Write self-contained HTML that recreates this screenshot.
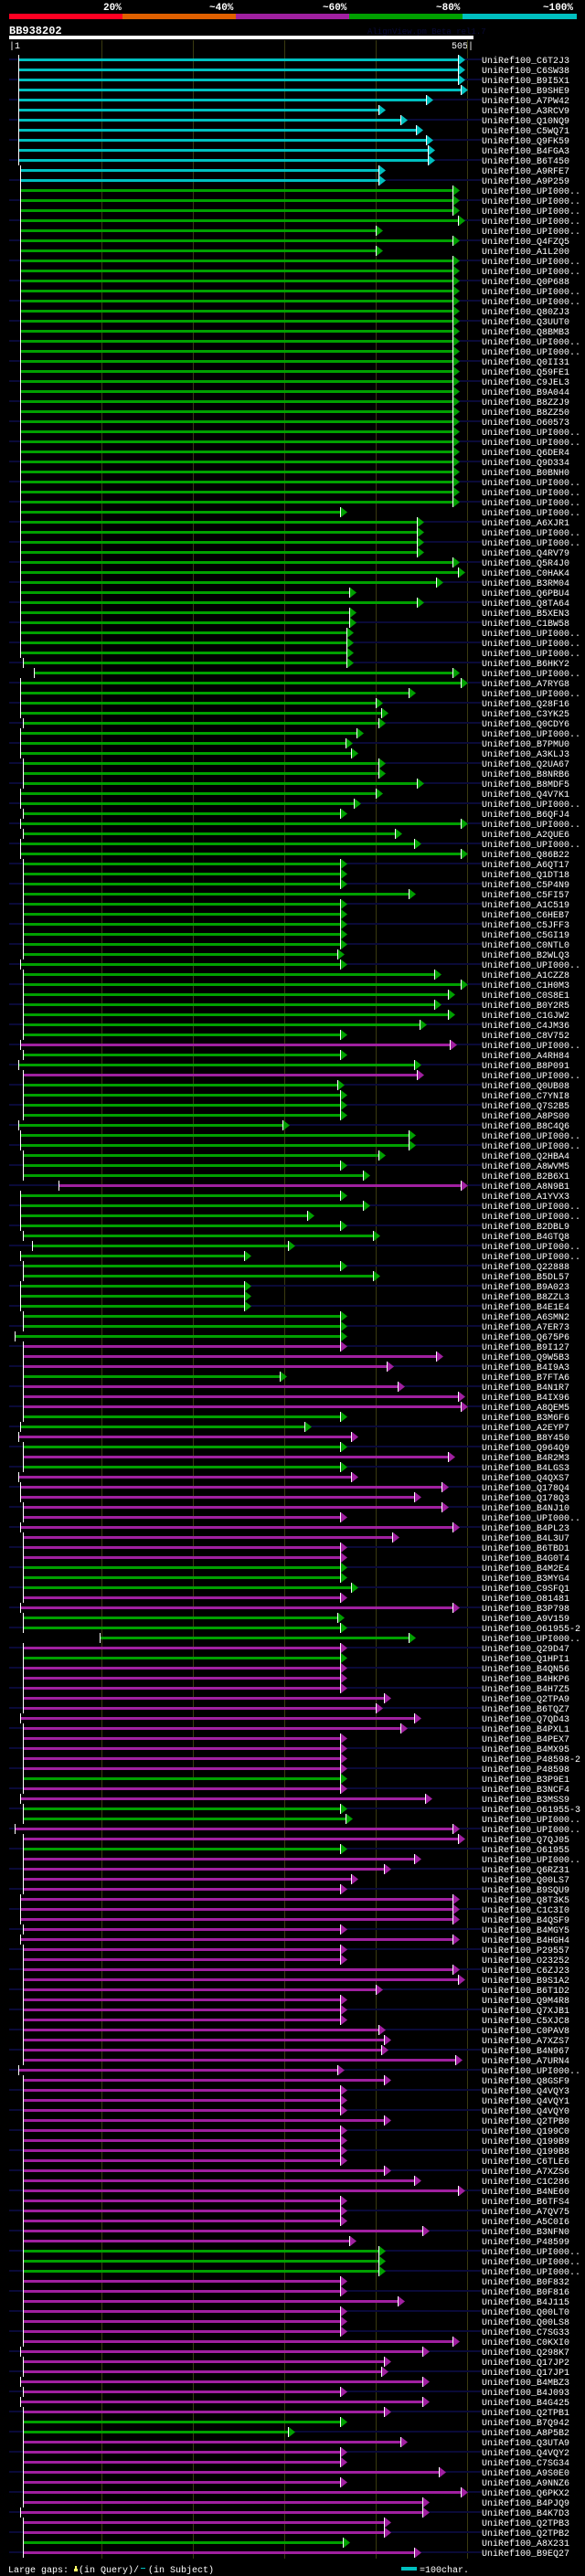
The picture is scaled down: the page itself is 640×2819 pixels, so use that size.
<!DOCTYPE html>
<html><head><meta charset="utf-8">
<style>
html,body{margin:0;padding:0;background:#000;}
body{width:640px;height:2819px;overflow:hidden;position:relative;font-family:"Liberation Mono",monospace;}
svg{position:absolute;left:0;top:0;}
</style></head>
<body>
<svg id="chart" width="640" height="2819" viewBox="0 0 640 2819" xmlns="http://www.w3.org/2000/svg" shape-rendering="crispEdges">
  <g>
    <rect x="10" y="15" width="124" height="6" fill="#ff0022"/>
    <rect x="134" y="15" width="124" height="6" fill="#e06000"/>
    <rect x="258" y="15" width="124" height="6" fill="#a020a0"/>
    <rect x="382" y="15" width="124" height="6" fill="#00a000"/>
    <rect x="506" y="15" width="125" height="6" fill="#00c0c0"/>
    <g font-family="Liberation Mono, monospace" font-weight="bold" font-size="11" fill="#fff">
      <text x="113" y="11">20%</text>
      <text x="229" y="11">~40%</text>
      <text x="353" y="11">~60%</text>
      <text x="477" y="11">~80%</text>
      <text x="594" y="11">~100%</text>
    </g>
  </g>
  <text x="10" y="37" font-family="Liberation Mono, monospace" font-weight="bold" font-size="12" fill="#fff">BB938202</text>
  <text x="402" y="37" font-family="Liberation Mono, monospace" font-size="9" fill="#0a0a38">AlignView.pm Beta rel1.7</text>
  <rect x="10" y="39" width="508" height="4" fill="#fff"/>
  <text x="10" y="53" font-family="Liberation Mono, monospace" font-size="10" fill="#fff">|1</text>
  <text x="518" y="53" text-anchor="end" font-family="Liberation Mono, monospace" font-size="10" fill="#fff">505|</text>
  <g id="grid"></g>
  <g id="rows"></g>
  <g font-family="Liberation Mono, monospace" font-size="10" fill="#fff">
    <text x="9" y="2815">Large gaps:</text>
    <rect x="82" y="2808" width="2" height="4" fill="#ffff66"/>
    <rect x="81" y="2811" width="4" height="3" fill="#ffff66"/>
    <text x="86" y="2815">(in Query)/</text>
    <rect x="154" y="2810" width="5" height="1" fill="#00c0c0"/>
    <text x="162" y="2815">(in Subject)</text>
    <rect x="439" y="2809" width="17" height="4" fill="#00c0c0"/>
    <text x="459" y="2815">=100char.</text>
  </g>
</svg>
<script>
const names = ["C6T2J3","C6SW38","B9I5X1","B9SHE9","A7PW42","A3RCV9","Q10NQ9","C5WQ71","Q9FK59","B4FGA3","B6T450","A9RFE7","A9P259","UPI000..","UPI000..","UPI000..","UPI000..","UPI000..","Q4FZQ5","A1L200","UPI000..","UPI000..","Q0P688","UPI000..","UPI000..","Q80ZJ3","Q3UUT0",
"Q8BMB3","UPI000..","UPI000..","Q0II31","Q59FE1","C9JEL3","B9A044","B8ZZJ9","B8ZZ50","O60573","UPI000..","UPI000..","Q6DER4","Q9D334","B0BNH0","UPI000..","UPI000..","UPI000..","UPI000..","A6XJR1","UPI000..","UPI000..","Q4RV79","Q5R4J0","C0HAK4","B3RM04","Q6PBU4",
"Q8TA64","B5XEN3","C1BW58","UPI000..","UPI000..","UPI000..","B6HKY2","UPI000..","A7RYG8","UPI000..","Q28F16","C3YK25","Q0CDY6","UPI000..","B7PMU0","A3KLJ3","Q2UA67","B8NRB6","B8MDF5","Q4V7K1","UPI000..","B6QFJ4","UPI000..","A2QUE6","UPI000..","Q86B22","A6QT17",
"Q1DT18","C5P4N9","C5FI57","A1C519","C6HEB7","C5JFF3","C5GI19","C0NTL0","B2WLQ3","UPI000..","A1CZZ8","C1H0M3","C0S8E1","B0Y2R5","C1GJW2","C4JM36","C8V752","UPI000..","A4RH84","B8P091","UPI000..","Q0UB08","C7YNI8","Q7S2B5","A8PS00","B8C4Q6","UPI000..","UPI000..",
"Q2HBA4","A8WVM5","B2B6X1","A8N9B1","A1YVX3","UPI000..","UPI000..","B2DBL9","B4GTQ8","UPI000..","UPI000..","Q22888","B5DL57","B9A023","B8ZZL3","B4E1E4","A6SMN2","A7ER73","Q675P6","B9I127","Q9W5B3","B4I9A3","B7FTA6","B4N1R7","B4IX96","A8QEM5","B3M6F6",
"A2EYP7","B8Y450","Q964Q9","B4R2M3","B4LGS3","Q4QXS7","Q178Q4","Q178Q3","B4NJ10","UPI000..","B4PL23","B4L3U7","B6TBD1","B4G0T4","B4M2E4","B3MYG4","C9SFQ1","O81481","B3P798","A9V159","O61955-2","UPI000..","Q29D47","Q1HPI1","B4QN56","B4HKP6","B4H7Z5",
"Q2TPA9","B6TQZ7","Q7QD43","B4PXL1","B4PEX7","B4MX95","P48598-2","P48598","B3P9E1","B3NCF4","B3MSS9","O61955-3","UPI000..","UPI000..","Q7QJ05","O61955","UPI000..","Q6RZ31","Q00LS7","B9SQU9","Q8T3K5","C1C3I0","B4QSF9","B4MGY5","B4HGH4","P29557","O23252","C6ZJ23",
"B9S1A2","B6T1D2","Q9M4R8","Q7XJB1","C5XJC8","C0PAV8","A7XZS7","B4N967","A7URN4","UPI000..","Q8GSF9","Q4VQY3","Q4VQY1","Q4VQY0","Q2TPB0","Q199C0","Q199B9","Q199B8","C6TLE6","A7XZS6","C1C286","B4NE60","B6TFS4","A7QV75","A5C0I6","B3NFN0","P48599",
"UPI000..","UPI000..","UPI000..","B0F832","B0F816","B4J115","Q00LT0","Q00LS8","C7SG33","C0KXI0","Q298K7","Q17JP2","Q17JP1","B4MBZ3","B4J093","B4G425","Q2TPB1","B7Q942","A8P5B2","Q3UTA9","Q4VQY2","C7SG34","A9S0E0","A9NNZ6","Q6PKX2","B4PJQ9","B4K7D3",
"Q2TPB3","Q2TPB2","A8X231","B9EQ27"];
const colors = "cccccccccccccgggggggggggggg"+"ggggggggggggggggggggggggggg"+"ggggggggggggggggggggggggggg"+"gggggggggggggggggmggmggggggg"+"gggmgggggggggggggggmmmgmmmg"+"gmgmgmmmmmmmmmgggmmgggmgmmm"+"mmmmmmmmgmmggmmgmmmmmmmmmmmm"+"mmmmmmmmmmmmmmmmmmmmmmmmmmm"+"gggmmmmmmmmmmmmmmggmmmmmmmm"+"mmgm";
const starts = [1,1,1,1,1,1,1,1,1,1,1,3,3,3,3,3,3,3,3,3,3,3,3,3,3,3,3,
3,3,3,3,3,3,3,3,3,3,3,3,3,3,3,3,3,3,3,3,3,3,3,3,3,3,3,
3,3,3,3,3,3,6,18,3,3,3,3,6,3,3,3,6,6,6,3,3,6,3,6,3,3,6,
6,6,6,6,6,6,6,6,6,3,6,6,6,6,6,6,6,3,6,1,6,6,6,6,6,1,3,3,
6,6,6,45,3,3,3,3,6,16,3,6,6,3,3,3,6,6,-3,6,6,6,6,6,6,6,6,
3,1,6,6,6,1,3,3,6,6,3,6,6,6,6,6,6,6,3,6,6,90,6,6,6,6,6,
6,6,3,6,6,6,6,6,6,6,3,6,6,-3,6,6,6,6,6,6,3,3,3,6,3,6,6,6,
6,6,6,6,6,6,6,6,6,1,6,6,6,6,6,6,6,6,6,6,6,6,6,6,6,6,6,
6,6,6,6,6,6,6,6,6,6,3,6,6,3,6,3,6,6,6,6,6,6,6,6,6,6,3,
6,6,6,6];
const ends = [489,489,489,492,454,402,426,443,454,456,456,402,402,483,483,483,489,399,483,399,483,483,483,483,483,483,483,
483,483,483,483,483,483,483,483,483,483,483,483,483,483,483,483,483,483,360,444,444,444,444,483,489,465,370,
444,370,370,367,367,367,367,483,492,435,399,405,402,378,366,372,402,402,444,399,375,360,492,420,441,492,360,
360,360,435,360,360,360,360,360,357,360,463,492,478,463,478,447,360,480,360,441,444,357,360,360,360,297,435,435,
402,360,385,492,360,385,324,360,396,303,255,360,396,255,255,255,360,360,360,360,465,411,294,423,489,492,360,
321,372,360,478,360,372,471,441,471,360,483,417,360,360,360,360,372,360,483,357,360,435,360,360,360,360,360,
408,399,441,426,360,360,360,360,360,360,453,360,366,483,489,360,441,408,372,360,483,483,483,360,483,360,360,483,
489,399,360,360,360,402,408,405,486,357,408,360,360,360,408,360,360,360,360,408,441,489,360,360,360,450,370,
402,402,402,360,360,423,360,360,360,483,450,408,405,450,360,450,408,360,303,426,360,360,468,360,492,450,450,
408,408,363,441];
const fills = {c:"#00c0c0", g:"#00a000", m:"#a020a0"};
const NS = "http://www.w3.org/2000/svg";
const X0 = 19, ROW0 = 65, ROWH = 11, LABELX = 527;
function xPos(p){ return X0 + p; }
function yPos(i){ return ROW0 + i*ROWH; }
function mk(tag, attrs, parent){ const e=document.createElementNS(NS,tag); for(const k in attrs) e.setAttribute(k,attrs[k]); parent.appendChild(e); return e; }

const grid = document.getElementById('grid');
[100,200,300,400,500].forEach(function(t){
  const ln = mk('rect',{x:xPos(t)-8,y:44,width:1,height:2756,fill:'#3a3a10'},grid);
  
  
});

const rowsG = document.getElementById('rows');
for(let i=0;i<names.length;i++){
  const y = yPos(i);
  const g = mk('g',{},rowsG);
  
  
  const sx = xPos(starts[i]);
  const tx = xPos(ends[i]);
  const col = fills[colors[i]] || fills.m;
  if(i%2===0){
    mk('rect',{x:10,y:y-1,width:Math.max(0,sx-10),height:2,fill:'#0a0a38'},g);
    mk('rect',{x:tx,y:y-1,width:LABELX-tx,height:2,fill:'#0a0a38'},g);
  }
  mk('rect',{x:sx,y:y-1,width:tx-6-sx,height:3,fill:col},g);
  mk('rect',{x:sx,y:y-5,width:1,height:11,fill:'#fff'},g);
  const p = mk('polygon',{points:(tx-6)+','+(y-5)+' '+(tx+1)+','+(y+0.5)+' '+(tx-6)+','+(y+6),fill:col},g);
  p.setAttribute('shape-rendering','auto');
  mk('rect',{x:tx-7,y:y-5,width:1,height:11,fill:'#fff'},g);
  const t = mk('text',{x:LABELX,y:y+4,'font-family':'Liberation Mono, monospace','font-size':'10',fill:'#fff'},g);
  t.setAttribute('shape-rendering','auto');
  t.textContent = 'UniRef100_'+names[i];
}
</script>
</body></html>
